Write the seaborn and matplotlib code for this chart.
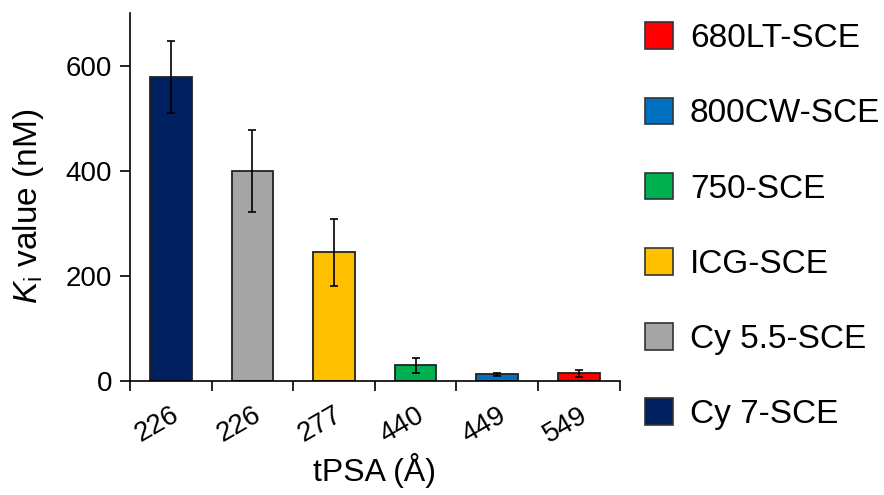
import numpy as np
import pandas as pd
import matplotlib
matplotlib.use("Agg")
import matplotlib.pyplot as plt
from matplotlib.patches import Patch
import seaborn as sns

# data
dyes = ["Cy 7-SCE", "Cy 5.5-SCE", "ICG-SCE", "750-SCE", "800CW-SCE", "680LT-SCE"]
tpsa = ["226", "226", "277", "440", "449", "549"]
ki_values = [579, 400, 245, 30, 13, 15]
ki_err = [69, 78, 64, 14, 3, 7]
colors = ["#002060", "#A5A5A5", "#FFC000", "#00B050", "#0070C0", "#FF0000"]

sns.set_style("white")
plt.rcParams["font.family"] = ["Liberation Sans", "DejaVu Sans"]
plt.rcParams["mathtext.fontset"] = "custom"
plt.rcParams["mathtext.rm"] = "Liberation Sans"
plt.rcParams["mathtext.it"] = "Liberation Sans:italic"
plt.rcParams["text.color"] = "black"
plt.rcParams["axes.labelcolor"] = "black"
plt.rcParams["xtick.color"] = "black"
plt.rcParams["ytick.color"] = "black"

df = pd.DataFrame({"dye": dyes, "ki": ki_values})

fig = plt.figure(figsize=(8.84, 4.95), dpi=100)
ax = fig.add_axes([0.147, 0.230, 0.554, 0.743])

sns.barplot(data=df, x="dye", y="ki", hue="dye", order=dyes,
            palette=dict(zip(dyes, colors)), saturation=1, width=0.51,
            edgecolor="#222222", linewidth=1.3, legend=False, ax=ax)
ax.errorbar(np.arange(len(dyes)), ki_values, yerr=ki_err, fmt="none",
            ecolor="black", elinewidth=1.2, capsize=3, capthick=1.2)

ax.set_xlim(-0.5, len(dyes) - 0.5)
ax.set_ylim(0, 700)
ax.set_yticks([0, 200, 400, 600])

# category labels, tick marks at category boundaries
ax.set_xticks(np.arange(len(dyes)))
ax.set_xticklabels(tpsa, rotation=30, ha="right", va="top",
                   rotation_mode="anchor", fontsize=20)
ax.tick_params(axis="x", which="major", bottom=True, length=0, pad=15)
ax.set_xticks(np.arange(len(dyes) + 1) - 0.5, minor=True)
ax.tick_params(axis="x", which="minor", bottom=True, length=7, width=1.2, direction="out")
ax.tick_params(axis="y", left=True, length=7, width=1.2, direction="out", labelsize=20, pad=6)

for s in ["top", "right"]:
    ax.spines[s].set_visible(False)
for s in ["left", "bottom"]:
    ax.spines[s].set_color("black")
    ax.spines[s].set_linewidth(1.2)

ax.set_xlabel("tPSA (Å)", fontsize=23, labelpad=4)
ax.set_ylabel(r"$\mathit{K}_\mathrm{i}$ value (nM)", fontsize=24)
ax.yaxis.set_label_coords(-0.172, 0.475)

handles = [Patch(facecolor=c, edgecolor="#333333", linewidth=1.2, label=d)
           for d, c in zip(dyes, colors)][::-1]
fig.legend(handles=handles, loc="upper left", bbox_to_anchor=(0.707, 0.995),
           frameon=False, fontsize=24, handlelength=0.85, handleheight=0.85,
           labelspacing=1.3, handletextpad=0.5, borderpad=0.1)

fig.savefig("out.png", dpi=100)
